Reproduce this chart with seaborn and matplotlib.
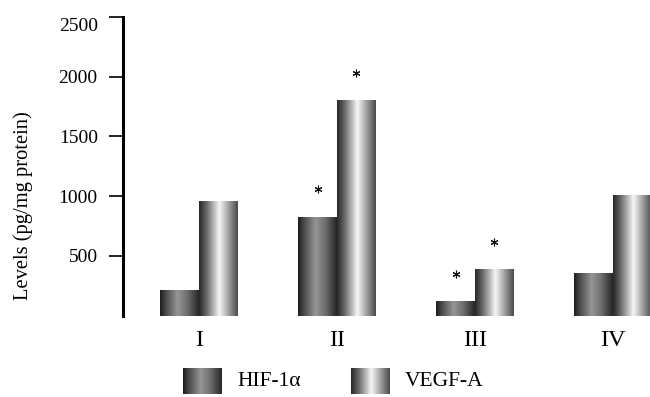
import numpy as np
import pandas as pd
import matplotlib
matplotlib.use("Agg")
import matplotlib.pyplot as plt
from matplotlib.colors import LinearSegmentedColormap
from matplotlib.transforms import ScaledTranslation
import seaborn as sns

groups = ["I", "II", "III", "IV"]
series = ["HIF-1α", "VEGF-A"]
hif_values = [218, 828, 122, 355]
vegf_values = [960, 1800, 388, 1010]
hif_sig = [False, True, True, False]
vegf_sig = [False, True, True, False]
y_ticks = [500, 1000, 1500, 2000, 2500]

df = pd.DataFrame({
    "group": groups * 2,
    "series": [series[0]] * 4 + [series[1]] * 4,
    "value": hif_values + vegf_values,
})

sns.set_theme(style="white")
plt.rcParams["font.family"] = ["Liberation Serif", "DejaVu Serif"]

cm_hif = LinearSegmentedColormap.from_list("hif", [
    (0.0, "#1c1c1c"), (0.15, "#4a4a4a"), (0.45, "#959595"),
    (0.7, "#6e6e6e"), (0.9, "#3e3e3e"), (1.0, "#262626")])
cm_vegf = LinearSegmentedColormap.from_list("vegf", [
    (0.0, "#262626"), (0.2, "#6a6a6a"), (0.42, "#c8c8c8"), (0.52, "#f6f6f6"),
    (0.62, "#d4d4d4"), (0.82, "#8a8a8a"), (1.0, "#4a4a4a")])
grad = np.linspace(0, 1, 256).reshape(1, -1)

fig = plt.figure(figsize=(6.5, 3.97), dpi=100)
ax = fig.add_axes([0.1888, 0.2048, 0.8112, 0.7531])

sns.barplot(data=df, x="group", y="value", hue="series", order=groups,
            hue_order=series, width=0.56, gap=0, ax=ax, legend=False,
            edgecolor="none", linewidth=0, palette=["#555555", "#bbbbbb"])

patches = list(ax.patches)
n = len(groups)
for i, p in enumerate(patches):
    cmap = cm_hif if i < n else cm_vegf
    x, y = p.get_x(), p.get_y()
    w, h = p.get_width(), p.get_height()
    p.set_facecolor("none")
    im = ax.imshow(grad, extent=[x, x + w, y, y + h], aspect="auto",
                   cmap=cmap, interpolation="bilinear", zorder=2)
    im.set_clip_path(p)

# significance markers
hif_patches = patches[:n]
vegf_patches = patches[n:]
for plist, vals, sig in [(hif_patches, hif_values, hif_sig),
                         (vegf_patches, vegf_values, vegf_sig)]:
    for p, v, s in zip(plist, vals, sig):
        if s:
            ax.plot(p.get_x() + p.get_width() / 2, v + 228, marker=(6, 2, 0),
                    markersize=5.5, color="#111111", markeredgewidth=0.8, zorder=3)

ax.set_xlim(-0.553, 3.268)
ax.set_ylim(0, 2500)
ax.set_yticks(y_ticks)
ax.set_yticklabels([str(t) for t in y_ticks], fontsize=14)
ax.tick_params(axis="y", direction="out", length=10, width=1.2, pad=8,
               left=True, color="black", labelcolor="black")
ax.tick_params(axis="x", length=0, pad=10, labelsize=17.5, labelcolor="black")
ax.set_xlabel("")
ax.set_ylabel("Levels (pg/mg protein)", fontsize=14.8, color="black")
ax.yaxis.set_label_coords(-0.170, 0.367)
for side in ["top", "right", "bottom"]:
    ax.spines[side].set_visible(False)
ax.spines["left"].set_linewidth(2.2)
ax.spines["left"].set_color("black")

# top tick label sits a little below its tick in the reference
top_label = ax.get_yticklabels()[-1]
top_label.set_transform(top_label.get_transform() +
                        ScaledTranslation(0, -8 / 100, fig.dpi_scale_trans))

# legend swatches
for left, cmap, label, tx in [(0.2815, cm_hif, series[0], 0.3646),
                              (0.540, cm_vegf, series[1], 0.623)]:
    lax = fig.add_axes([left, 0.0076, 0.0585, 0.0655])
    lax.imshow(grad, aspect="auto", cmap=cmap, interpolation="bilinear")
    lax.axis("off")
    fig.text(tx, 0.04, label, fontsize=15.5, va="center", ha="left", color="black")

fig.savefig("out.png", dpi=100)
